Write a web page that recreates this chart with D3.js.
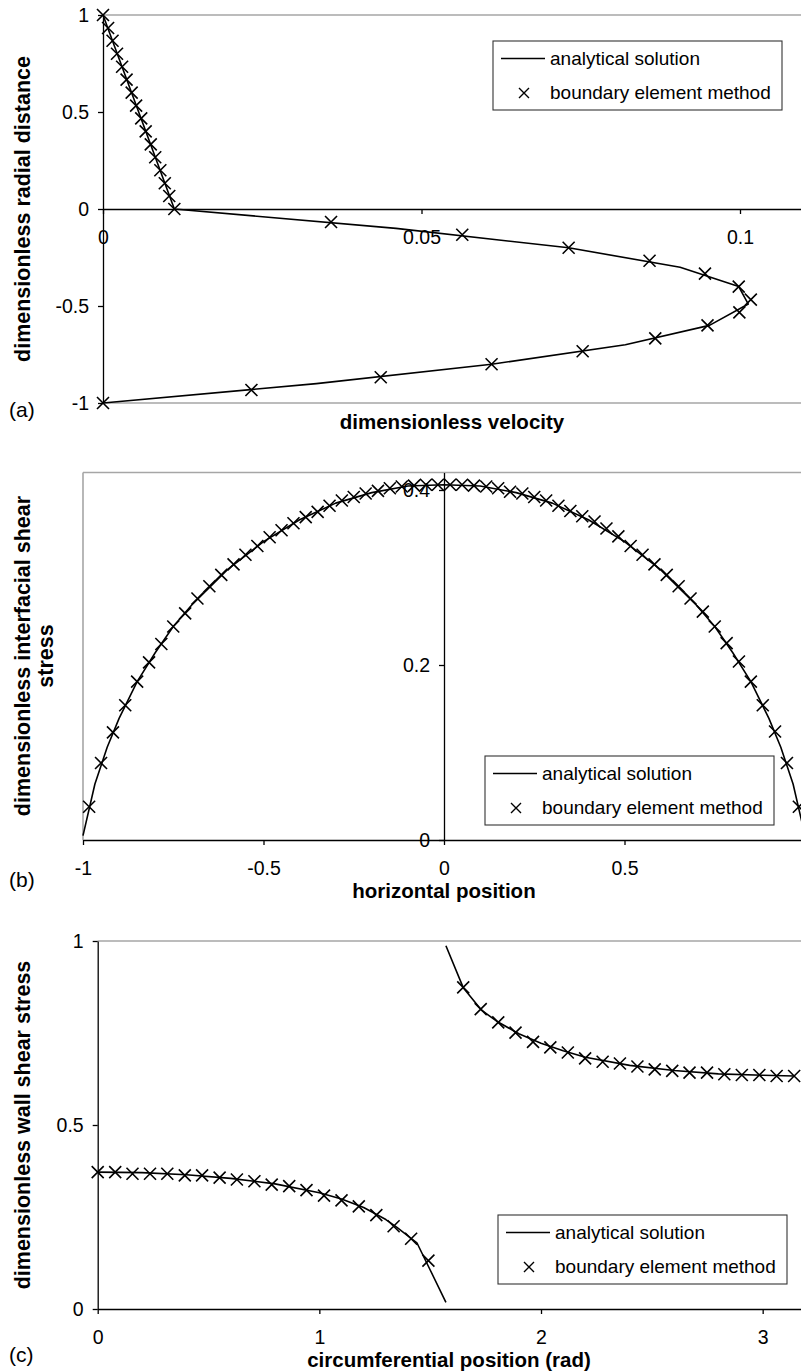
<!DOCTYPE html>
<html>
<head>
<meta charset="utf-8">
<script src="https://cdn.jsdelivr.net/npm/d3@7"></script>
<style>
html, body { margin: 0; padding: 0; background: #fff; }
svg { display: block; font-family: "Liberation Sans", Arial, Helvetica, sans-serif; }
</style>
</head>
<body>
<svg id="fig" width="801" height="1371"></svg>
<script>
// ---------- (a) velocity profile across the channel ----------
const aLineVel = [0, 0.0112, 0.046, 0.0731, 0.0906, 0.0998, 0.1013, 0.0952, 0.082, 0.061, 0.0335, 0];
const aLineR   = [1, 0, -0.1, -0.2, -0.3, -0.4, -0.49, -0.6, -0.7, -0.8, -0.9, -1];
const aBemVel = [0, 0.0008, 0.0015, 0.0022, 0.003, 0.0037, 0.0045, 0.0052, 0.006, 0.0067, 0.0075, 0.0082, 0.009, 0.0097, 0.0104, 0.0112,
                 0.0358, 0.0564, 0.0731, 0.0858, 0.0945, 0.0998, 0.1017, 0.0999, 0.0949, 0.0867, 0.0753, 0.061, 0.0436, 0.0233, 0];
const aBemR   = [1, 0.933, 0.867, 0.8, 0.733, 0.667, 0.6, 0.533, 0.467, 0.4, 0.333, 0.267, 0.2, 0.133, 0.067, 0,
                 -0.067, -0.133, -0.2, -0.267, -0.333, -0.4, -0.467, -0.533, -0.6, -0.667, -0.733, -0.8, -0.867, -0.933, -1];
const aXTicks = [0, 0.05, 0.1];
const aYTicks = [1, 0.5, 0, -0.5, -1];

// ---------- (b) interfacial shear stress ----------
const bLineX = [-1, -0.967, -0.933, -0.9, -0.85, -0.8, -0.75, -0.7, -0.6, -0.5, -0.4, -0.3, -0.2, -0.1, 0,
                0.1, 0.2, 0.3, 0.4, 0.5, 0.6, 0.7, 0.75, 0.8, 0.85, 0.9, 0.933, 0.967, 1];
const bLineY = [0.005, 0.064, 0.106, 0.139, 0.181, 0.214, 0.244, 0.268, 0.309, 0.341, 0.366, 0.385, 0.397, 0.4045, 0.406,
                0.4045, 0.397, 0.385, 0.366, 0.341, 0.309, 0.268, 0.244, 0.214, 0.181, 0.139, 0.106, 0.064, 0.005];
const bBemX = [-0.983, -0.95, -0.917, -0.883, -0.85, -0.817, -0.783, -0.75, -0.717, -0.683,
               -0.65, -0.617, -0.583, -0.55, -0.517, -0.483, -0.45, -0.417, -0.383, -0.35,
               -0.317, -0.283, -0.25, -0.217, -0.183, -0.15, -0.117, -0.083, -0.05, -0.017,
               0.017, 0.05, 0.083, 0.117, 0.15, 0.183, 0.217, 0.25, 0.283, 0.317,
               0.35, 0.383, 0.417, 0.45, 0.483, 0.517, 0.55, 0.583, 0.617, 0.65,
               0.683, 0.717, 0.75, 0.783, 0.817, 0.85, 0.883, 0.917, 0.95, 0.983];
const bBemY = [0.038, 0.088, 0.123, 0.154, 0.181, 0.203, 0.224, 0.244, 0.259, 0.276,
               0.290, 0.303, 0.315, 0.326, 0.336, 0.346, 0.354, 0.362, 0.369, 0.375,
               0.382, 0.388, 0.392, 0.396, 0.399, 0.402, 0.404, 0.405, 0.406, 0.406,
               0.406, 0.406, 0.405, 0.404, 0.402, 0.398, 0.396, 0.392, 0.388, 0.382,
               0.376, 0.370, 0.364, 0.356, 0.347, 0.336, 0.326, 0.315, 0.303, 0.290,
               0.276, 0.261, 0.244, 0.225, 0.204, 0.181, 0.154, 0.124, 0.088, 0.038];
const bXTicks = [-1, -0.5, 0, 0.5];
const bYTicks = [0, 0.2, 0.4];

// ---------- (c) wall shear stress around the circumference ----------
const cLine1X = [0, 0.2, 0.4, 0.6, 0.8, 1.0, 1.1, 1.2, 1.3, 1.35, 1.44, 1.5, 1.571];
const cLine1Y = [0.372, 0.3705, 0.365, 0.355, 0.340, 0.316, 0.299, 0.276, 0.243, 0.222, 0.180, 0.106, 0.018];
const cLine2X = [1.571, 1.65, 1.73, 1.8, 1.9, 2.0, 2.1, 2.2, 2.4, 2.6, 2.8, 3.0, 3.142];
const cLine2Y = [0.987, 0.872, 0.813, 0.782, 0.748, 0.722, 0.702, 0.684, 0.662, 0.648, 0.639, 0.635, 0.633];
const cBemX = [0, 0.079, 0.157, 0.236, 0.314, 0.393, 0.471, 0.55, 0.628, 0.707,
               0.785, 0.864, 0.942, 1.021, 1.1, 1.178, 1.257, 1.335, 1.414, 1.492,
               1.649, 1.728, 1.807, 1.885, 1.964, 2.042, 2.121, 2.199, 2.278, 2.356,
               2.435, 2.513, 2.592, 2.67, 2.749, 2.827, 2.906, 2.985, 3.063, 3.142];
const cBemY = [0.372, 0.372, 0.3675, 0.3675, 0.3675, 0.363, 0.363, 0.357, 0.352, 0.347,
               0.338, 0.334, 0.323, 0.308, 0.295, 0.279, 0.255, 0.225, 0.191, 0.1315,
               0.874, 0.815, 0.779, 0.751, 0.726, 0.711, 0.697, 0.681, 0.672, 0.667,
               0.659, 0.651, 0.647, 0.6425, 0.6425, 0.638, 0.636, 0.636, 0.633, 0.633];
const cXTicks = [0, 1, 2, 3];
const cYTicks = [0, 0.5, 1];

const legendLabels = ["analytical solution", "boundary element method"];

// ---------- shared styling ----------
const TICK_FONT = 19.5, TITLE_FONT = 20.5, VTITLE_FONT = 21.5, LEGEND_FONT = 19;
const BORDER = "#a6a6a6";
const CROSS = "M-6,-6L6,6M-6,6L6,-6";
const svg = d3.select("#fig");

function styleAxis(g) {
  g.attr("font-family", null).attr("font-size", null);
  g.select(".domain").attr("stroke", "#000").attr("stroke-width", 1.3);
  g.selectAll(".tick line").attr("stroke", "#000").attr("stroke-width", 1.3);
  g.selectAll(".tick text").attr("fill", "#000").style("font-size", TICK_FONT + "px");
}

function border(x1, y1, x2, y2) {
  svg.append("line").attr("x1", x1).attr("y1", y1).attr("x2", x2).attr("y2", y2)
    .attr("stroke", BORDER).attr("stroke-width", 1.6);
}

function curve(xs, ys, x, y) {
  const pts = d3.zip(xs, ys);
  svg.append("path")
    .attr("d", d3.line().x(d => x(d[0])).y(d => y(d[1]))(pts))
    .attr("fill", "none").attr("stroke", "#000").attr("stroke-width", 1.6)
    .attr("stroke-linejoin", "round");
}

function crosses(xs, ys, x, y) {
  svg.append("g").selectAll("path").data(d3.zip(xs, ys)).join("path")
    .attr("d", CROSS)
    .attr("transform", d => `translate(${x(d[0])},${y(d[1])})`)
    .attr("fill", "none").attr("stroke", "#000").attr("stroke-width", 1.6);
}

function legend(left, top) {
  const g = svg.append("g").attr("transform", `translate(${left},${top})`);
  g.append("rect").attr("width", 289).attr("height", 69)
    .attr("fill", "#fff").attr("stroke", "#333").attr("stroke-width", 1.1);
  g.append("line").attr("x1", 8).attr("x2", 52).attr("y1", 17.5).attr("y2", 17.5)
    .attr("stroke", "#000").attr("stroke-width", 1.5);
  g.append("path").attr("d", "M-5,-5L5,5M-5,5L5,-5").attr("transform", "translate(31,52)")
    .attr("fill", "none").attr("stroke", "#000").attr("stroke-width", 1.4);
  g.selectAll("text").data(legendLabels).join("text")
    .attr("x", 57).attr("y", (d, i) => 24 + i * 34)
    .style("font-size", LEGEND_FONT + "px").text(d => d);
}

function title(x, y, text, rotate) {
  const t = svg.append("text")
    .attr("text-anchor", "middle")
    .style("font-weight", "bold")
    .text(text);
  if (rotate) {
    t.attr("transform", `translate(${x},${y}) rotate(-90)`).attr("dy", "0.35em")
      .style("font-size", VTITLE_FONT + "px");
  } else {
    t.attr("x", x).attr("y", y).style("font-size", TITLE_FONT + "px");
  }
}

function panelTag(y, text) {
  svg.append("text").attr("x", 9).attr("y", y).style("font-size", "21px").text(text);
}

const fmt = v => String(v);

// ---------- panel (a) ----------
{
  const x = d3.scaleLinear().domain([0, 0.11]).range([103, 803.7]);
  const y = d3.scaleLinear().domain([-1, 1]).range([403, 15]);
  border(103, y(1), 801, y(1));
  border(103, y(-1), 801, y(-1));
  svg.append("g").attr("transform", `translate(0,${y(0)})`)
    .call(d3.axisBottom(x).tickValues(aXTicks).tickFormat(fmt).tickSize(5).tickSizeOuter(0).tickPadding(16))
    .call(styleAxis);
  svg.append("g").attr("transform", `translate(${x(0)},0)`)
    .call(d3.axisLeft(y).tickValues(aYTicks).tickFormat(fmt).tickSize(5).tickSizeOuter(0).tickPadding(9))
    .call(styleAxis);
  curve(aLineVel, aLineR, x, y);
  crosses(aBemVel, aBemR, x, y);
  legend(493, 41);
  title(22, 209, "dimensionless radial distance", true);
  title(452, 429, "dimensionless velocity", false);
  panelTag(417, "(a)");
}

// ---------- panel (b) ----------
{
  const x = d3.scaleLinear().domain([-1, 1]).range([83, 805]);
  const y = d3.scaleLinear().domain([0, 0.42]).range([840, 472.5]);
  border(83, y(0.42), 805, y(0.42));
  border(x(-1), y(0.42), x(-1), y(0));
  svg.append("g").attr("transform", `translate(0,${y(0)})`)
    .call(d3.axisBottom(x).tickValues(bXTicks).tickFormat(fmt).tickSize(5).tickSizeOuter(0).tickPadding(16))
    .call(styleAxis);
  svg.append("g").attr("transform", `translate(${x(0)},0)`)
    .call(d3.axisLeft(y).tickValues(bYTicks).tickFormat(fmt).tickSize(5).tickSizeOuter(0).tickPadding(9))
    .call(styleAxis);
  curve(bLineX, bLineY, x, y);
  crosses(bBemX, bBemY, x, y);
  legend(485, 756);
  title(22, 656, "dimensionless interfacial shear", true);
  title(45, 656, "stress", true);
  title(444, 898, "horizontal position", false);
  panelTag(887, "(b)");
}

// ---------- panel (c) ----------
{
  const x = d3.scaleLinear().domain([0, 3.2]).range([97.7, 807]);
  const y = d3.scaleLinear().domain([0, 1]).range([1309, 941]);
  border(97.7, y(1), 807, y(1));
  svg.append("g").attr("transform", `translate(0,${y(0)})`)
    .call(d3.axisBottom(x).tickValues(cXTicks).tickFormat(fmt).tickSize(5).tickSizeOuter(0).tickPadding(16))
    .call(styleAxis);
  svg.append("g").attr("transform", `translate(${x(0)},0)`)
    .call(d3.axisLeft(y).tickValues(cYTicks).tickFormat(fmt).tickSize(5).tickSizeOuter(0).tickPadding(9))
    .call(styleAxis);
  curve(cLine1X, cLine1Y, x, y);
  curve(cLine2X, cLine2Y, x, y);
  crosses(cBemX, cBemY, x, y);
  legend(498, 1215);
  title(22, 1125, "dimensionless wall shear stress", true);
  title(449, 1367, "circumferential position (rad)", false);
  panelTag(1362, "(c)");
}
</script>
</body>
</html>
